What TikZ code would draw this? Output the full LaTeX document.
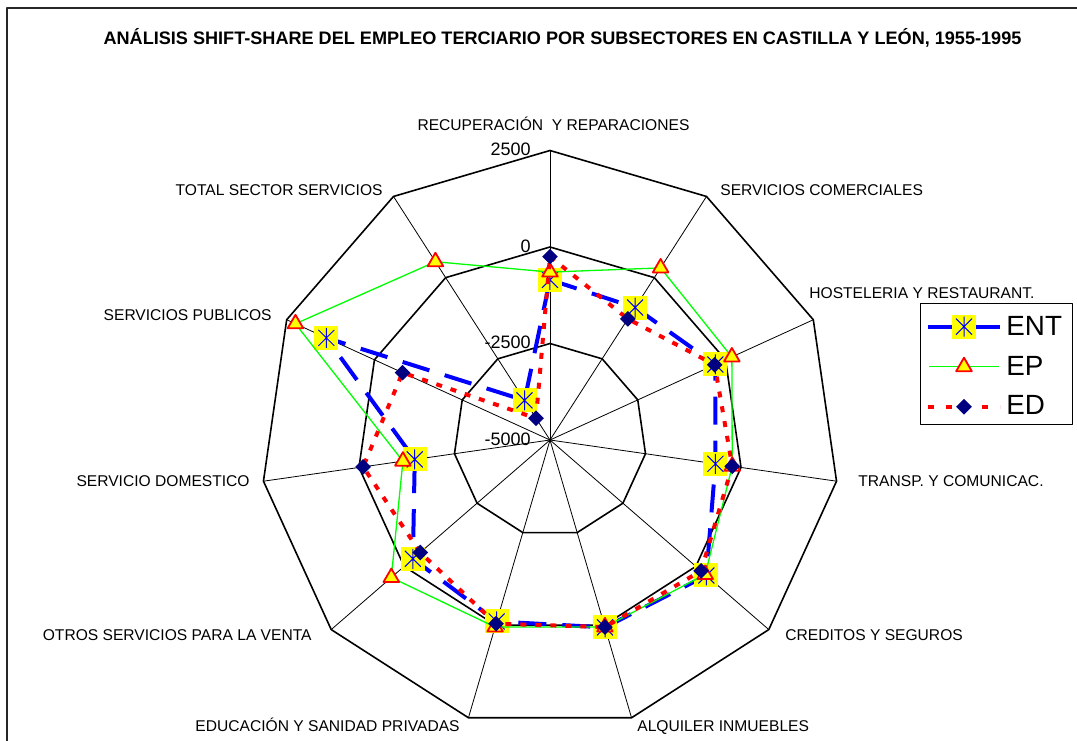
\documentclass[tikz,border=0pt]{standalone}
\usepackage{fontspec}
\setmainfont{Liberation Sans}
\usepackage{tikz}
\usetikzlibrary{calc,positioning,shapes.geometric}
\definecolor{xlblue}{RGB}{0,0,255}
\definecolor{xlgreen}{RGB}{0,255,0}
\definecolor{xlred}{RGB}{255,0,0}
\definecolor{xlyellow}{RGB}{255,255,0}
\definecolor{xlnavy}{RGB}{0,0,128}
\tikzset{
  ring/.style={line width=0.8pt},
  spoke/.style={line width=0.4pt},
  catlabel/.style={font=\fontsize{7.8}{9}\selectfont,inner sep=0pt},
  ticklabel/.style={font=\fontsize{9}{10}\selectfont,anchor=east,inner sep=0pt},
  entline/.style={xlblue,line width=2pt,dash pattern=on 14pt off 8pt},
  epline/.style={xlgreen,line width=0.65pt},
  edline/.style={xlred,line width=2pt,dash pattern=on 3pt off 4.5pt},
  entmark/.style={rectangle,fill=xlyellow,inner sep=0pt,minimum size=12pt,
    path picture={\draw[xlblue,line width=0.5pt] (path picture bounding box.center)
      +(0,5pt) -- +(0,-5pt) +(-4pt,4pt) -- +(4pt,-4pt) +(-4pt,-4pt) -- +(4pt,4pt);}},
  epmark/.style={regular polygon,regular polygon sides=3,fill=xlyellow,draw=xlred,
    line width=0.9pt,inner sep=0pt,minimum size=9pt},
  edmark/.style={diamond,fill=xlnavy,inner sep=0pt,minimum width=8pt,minimum height=8pt},
  legtext/.style={font=\fontsize{13.9}{16}\selectfont,anchor=base west,inner sep=0pt}
}

\begin{document}
\begin{tikzpicture}[x=0.5pt,y=0.5pt,line join=round]
  % Window & clip (one unit = one pixel of the sheet)
  \clip (-550,-300) rectangle (527,440);
  \draw[line width=0.6pt,black!85] (-543,432) rectangle (600,-400);
  \def\rstep{96.5}   % 2500 per ring

  % Title
  \node[font=\bfseries\fontsize{9.05}{10}\selectfont] (title) at (12.5,402)
    {ANÁLISIS SHIFT-SHARE DEL EMPLEO TERCIARIO POR SUBSECTORES EN CASTILLA Y LEÓN, 1955-1995};

  % Spokes and rings
  \foreach \i in {0,...,10}
    \draw[spoke] (0,0) -- ({90-\i*360/11}:{3*\rstep});
  \foreach \k in {1,2,3}
    \draw[ring] (90:{\k*\rstep}) \foreach \i in {1,...,10}{ -- ({90-\i*360/11}:{\k*\rstep})} -- cycle;

  % Scale
  \foreach \v [count=\k from 0] in {-5000,-2500,0,2500}
    \node[ticklabel] (tick\k) at (-19,{\k*\rstep+1}) {\v};

  % Subsector labels
  \node[catlabel,anchor=base] (recup) at (3.5,309) {RECUPERACIÓN\ \ Y REPARACIONES};
  \node[catlabel,anchor=base west] (comer) at (170,244) {SERVICIOS COMERCIALES};
  \node[catlabel,anchor=base west] (hoste) at (259,142) {HOSTELERIA Y RESTAURANT.};
  \node[catlabel,anchor=base west] (trans) at (308,-46) {TRANSP. Y COMUNICAC.};
  \node[catlabel,anchor=base west] (credi) at (235,-200) {CREDITOS Y SEGUROS};
  \node[catlabel,anchor=base west] (alqui) at (87,-291) {ALQUILER INMUEBLES};
  \node[catlabel,anchor=base east] (educa) at (-90,-291) {EDUCACIÓN Y SANIDAD PRIVADAS};
  \node[catlabel,anchor=base east] (otros) at (-238,-200) {OTROS SERVICIOS PARA LA VENTA};
  \node[catlabel,anchor=base east] (domes) at (-300,-46) {SERVICIO DOMESTICO};
  \node[catlabel,anchor=base east] (publi) at (-278,120) {SERVICIOS PUBLICOS};
  \node[catlabel,anchor=base east] (total) at (-167,244) {TOTAL SECTOR SERVICIOS};

  % Series values
  \foreach \v [count=\i from 0] in {-850,-920,-290,-670,360,60,-100,-300,-1460,1370,-3780}
    \coordinate (ent\i) at ({90-\i*360/11}:{(\v+5000)/2500*\rstep});
  \foreach \v [count=\i from 0] in {-650,300,180,-230,320,50,50,440,-1150,2250,490}
    \coordinate (ep\i) at ({90-\i*360/11}:{(\v+5000)/2500*\rstep});
  \foreach \v [count=\i from 0] in {-250,-1270,-310,-230,180,50,-40,-550,-110,-800,-4330}
    \coordinate (ed\i) at ({90-\i*360/11}:{(\v+5000)/2500*\rstep});

  % ENT
  \draw[entline] (ent0) \foreach \i in {1,...,10}{ -- (ent\i)} -- cycle;
  \foreach \i in {0,...,10} \node[entmark] (entm\i) at (ent\i) {};
  % EP
  \draw[epline] (ep0) \foreach \i in {1,...,10}{ -- (ep\i)} -- cycle;
  \foreach \i in {0,...,10} \node[epmark] (epm\i) at (ep\i) {};
  % ED
  \draw[edline] (ed0) \foreach \i in {1,...,10}{ -- (ed\i)} -- cycle;
  \foreach \i in {0,...,10} \node[edmark] (edm\i) at (ed\i) {};

  % Legend
  \node[draw,line width=0.65pt,minimum width=75.8pt,minimum height=60.5pt,inner sep=0pt]
    (legend) at (446.5,76.2) {};
  \coordinate (entA) at (378,113.3); \coordinate (entB) at (450,113.3);
  \coordinate (epA) at (379,73.3);   \coordinate (epB) at (449,73.3);
  \coordinate (edA) at (378,33.3);   \coordinate (edB) at (450,33.3);
  \draw[entline] (entA) -- (entB);
  \node[entmark] (entkey) at ($(entA)!0.5!(entB)$) {};
  \draw[epline] (epA) -- (epB);
  \node[epmark] (epkey) at ($(epA)!0.5!(epB)$) {};
  \draw[edline,dash pattern=on 3pt off 6pt] (edA) -- (edB);
  \node[edmark] (edkey) at ($(edA)!0.5!(edB)$) {};
  \node[legtext] (entlab) at (456,105) {ENT};
  \node[legtext] (eplab) at (456,65) {EP};
  \node[legtext] (edlab) at (456,26) {ED};
\end{tikzpicture}
\end{document}
